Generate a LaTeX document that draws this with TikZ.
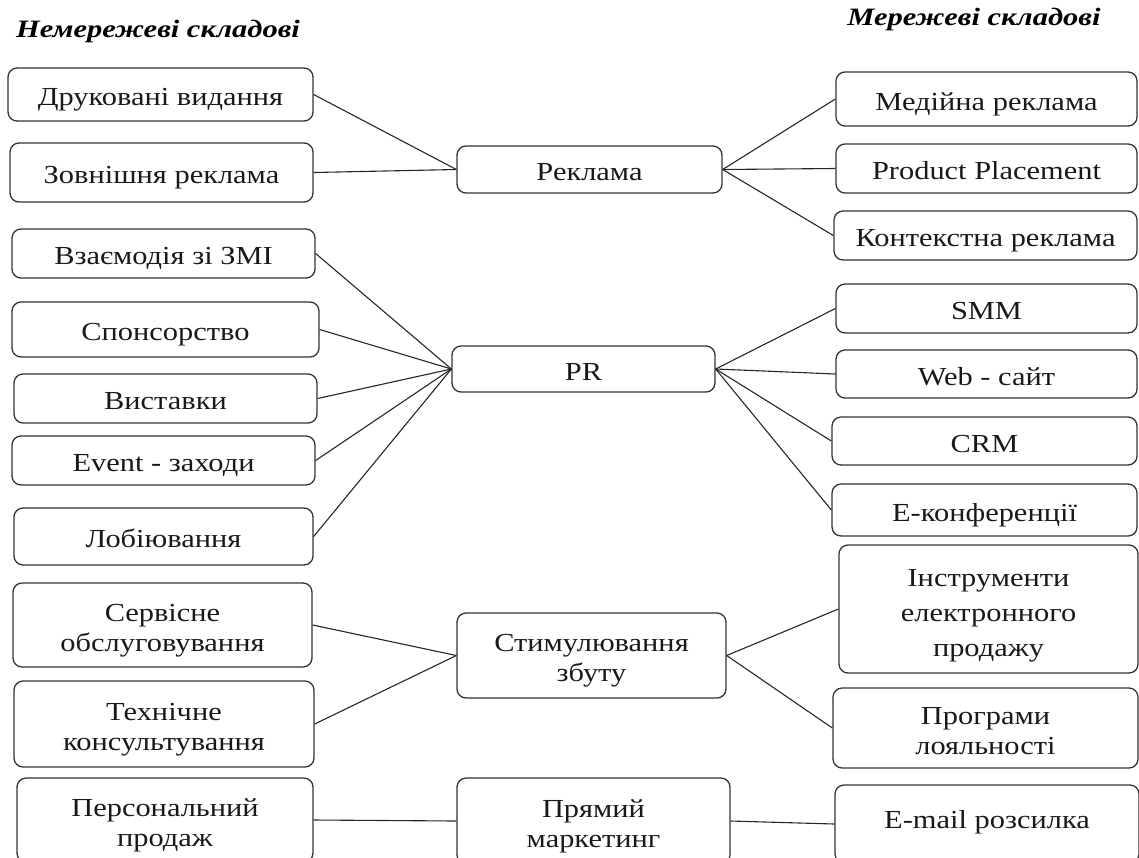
\documentclass[tikz,border=0pt]{standalone}
\usepackage{fontspec}
\setmainfont[FakeStretch=1.17]{Liberation Serif}
\newfontfamily\ttlfont[FakeStretch=1.22]{Liberation Serif}
\newcommand\lbl[2][-5pt]{\raisebox{#1}[\height][\depth]{\begin{tabular}{@{}c@{}}#2\end{tabular}}}
\begin{document}
\begin{tikzpicture}[x=1pt,y=-1pt,
  box/.style={draw=black!80, line width=1.3pt, rounded corners=9pt, inner sep=2pt,
    font=\fontsize{26}{30}\selectfont, text=black!90},
  conn/.style={draw=black!85, line width=1.1pt},
  ttl/.style={font=\ttlfont\fontsize{25}{28}\selectfont\bfseries\itshape, inner sep=0pt}]
\useasboundingbox (0,0) rectangle (1139,857);
\clip (0,0) rectangle (1139,857);
% titles
\node[ttl] (tl) at (158,31) {Немережеві складові};
\node[ttl] (tr) at (974,19) {Мережеві складові};
% advertising
\node[box, minimum width=305, minimum height=53] (d1) at (160.5,94.5) {\lbl{Друковані видання}};
\node[box, minimum width=303, minimum height=59] (d2) at (161.5,172.5) {\lbl{Зовнішня реклама}};
\node[box, minimum width=265, minimum height=47] (rek) at (589.5,169.5) {\lbl{Реклама}};
\node[box, minimum width=301, minimum height=54] (m1) at (986.5,99) {\lbl{Медійна реклама}};
\node[box, minimum width=301, minimum height=49] (m2) at (986.5,168.5) {\lbl{Product Placement}};
\node[box, minimum width=303, minimum height=49] (m3) at (985.5,235.5) {\lbl{Контекстна реклама}};
% PR
\node[box, minimum width=303, minimum height=49] (p1) at (163.5,253.5) {\lbl{Взаємодія зі ЗМІ}};
\node[box, minimum width=307, minimum height=55] (p2) at (165.5,329.5) {\lbl{Спонсорство}};
\node[box, minimum width=303, minimum height=49] (p3) at (165.5,398.5) {\lbl{Виставки}};
\node[box, minimum width=303, minimum height=49] (p4) at (163.5,460.5) {\lbl{Event - заходи}};
\node[box, minimum width=299, minimum height=57] (p5) at (163.5,536.5) {\lbl{Лобіювання}};
\node[box, minimum width=263, minimum height=46] (pr) at (583.5,369) {\lbl{PR}};
\node[box, minimum width=301, minimum height=49] (r1) at (986.5,308.5) {\lbl{SMM}};
\node[box, minimum width=301, minimum height=48] (r2) at (986.5,374) {\lbl{Web - сайт}};
\node[box, minimum width=305, minimum height=48] (r3) at (984.5,441) {\lbl{CRM}};
\node[box, minimum width=305, minimum height=52] (r4) at (984.5,510) {\lbl{Е-конференції}};
% sales promotion
\node[box, minimum width=299, minimum height=84] (s1) at (162.5,625) {\lbl{Сервісне\\обслуговування}};
\node[box, minimum width=300, minimum height=86] (s2) at (164,724) {\lbl{Технічне\\консультування}};
\node[box, minimum width=269, minimum height=85] (st) at (591.5,655.5) {\lbl{Стимулювання\\збуту}};
\node[box, minimum width=299, minimum height=128, font=\fontsize{26}{35}\selectfont] (e1) at (988.5,609) {\lbl{Інструменти\\електронного\\продажу}};
\node[box, minimum width=305, minimum height=80] (e2) at (985.5,728) {\lbl{Програми\\лояльності}};
% direct marketing
\node[box, minimum width=296, minimum height=84] (b1) at (165,820) {\lbl{Персональний\\продаж}};
\node[box, minimum width=273, minimum height=86] (b2) at (593.5,821) {\lbl{Прямий\\маркетинг}};
\node[box, minimum width=304, minimum height=78] (b3) at (987,824) {\lbl[2pt]{E-mail розсилка}};
% connectors
\draw[conn] (d1.east) -- (rek.west);
\draw[conn] (d2.east) -- (rek.west);
\draw[conn] (rek.east) -- (m1.west);
\draw[conn] (rek.east) -- (m2.west);
\draw[conn] (rek.east) -- (m3.west);
\foreach \n in {p1,p2,p3,p4,p5} \draw[conn] (\n.east) -- (pr.west);
\foreach \n in {r1,r2,r3,r4} \draw[conn] (pr.east) -- (\n.west);
\draw[conn] (s1.east) -- (st.west);
\draw[conn] (s2.east) -- (st.west);
\draw[conn] (st.east) -- (e1.west);
\draw[conn] (st.east) -- (e2.west);
\draw[conn] (b1.east) -- (b2.west);
\draw[conn] (b2.east) -- (b3.west);
\end{tikzpicture}
\end{document}
